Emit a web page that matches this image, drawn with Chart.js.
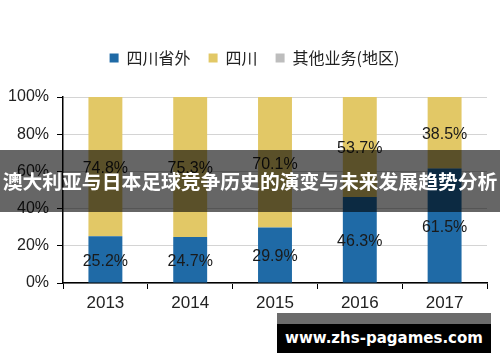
<!DOCTYPE html>
<html>
<head>
<meta charset="utf-8">
<script src="https://cdn.jsdelivr.net/npm/chart.js@4/dist/chart.umd.min.js"></script>
<style>
  html, body { margin: 0; padding: 0; background: #fff; }
  #wrap { position: relative; width: 500px; height: 362px; overflow: hidden; }
  #banner {
    position: absolute; left: 0; top: 150px; width: 500px; height: 62px;
    background: rgba(0,0,0,0.6); color: #fff;
    font: bold 19.8px "Noto Sans CJK SC", sans-serif;
    line-height: 62px; text-align: center; white-space: nowrap;
  }
  #mark {
    position: absolute; left: 277px; top: 313px; width: 214px; height: 40px;
    background: #000; border-top: 11px solid #6b6b6b; box-sizing: border-box;
    color: #fff; font: bold 15px "DejaVu Sans", sans-serif;
    line-height: 28px; text-align: center; white-space: nowrap;
  }
</style>
</head>
<body>
<div id="wrap">
  <canvas id="c" width="500" height="362"></canvas>
  <div id="banner">澳大利亚与日本足球竞争历史的演变与未来发展趋势分析</div>
  <div id="mark">www.zhs-pagames.com</div>
</div>
<script>
// 数据
const years = ['2013', '2014', '2015', '2016', '2017'];
const outsideSichuan = [25.2, 24.7, 29.9, 46.3, 61.5];
const sichuan = [74.8, 75.3, 70.1, 53.7, 38.5];
const otherBiz = [0, 0, 0, 0, 0];
const yTicks = [0, 20, 40, 60, 80, 100];

// 在每段柱子中间写数值
const segLabels = {
  id: 'segLabels',
  afterDatasetsDraw(chart) {
    const ctx = chart.ctx;
    ctx.save();
    ctx.font = '16px "Liberation Sans", Arial, sans-serif';
    ctx.fillStyle = '#1a1a1a';
    ctx.textAlign = 'center';
    ctx.textBaseline = 'middle';
    chart.data.datasets.forEach((ds, di) => {
      if (ds.label === '其他业务(地区)') return;
      chart.getDatasetMeta(di).data.forEach((bar, i) => {
        const v = ds.data[i];
        if (!v) return;
        ctx.fillText(v.toFixed(1) + '%', bar.x, (bar.y + bar.base) / 2 + 2);
      });
    });
    ctx.restore();
  }
};

// 图例下方多留一点空，并稍微右移
const legendGap = {
  id: 'legendGap',
  beforeInit(chart) {
    const legend = chart.legend;
    const fit = legend.fit;
    legend.fit = function () {
      fit.call(this);
      this.height += 21;
    };
    const draw = legend.draw;
    legend.draw = function () {
      const ctx = this.ctx;
      ctx.save();
      ctx.translate(11, 0);
      draw.call(this);
      ctx.restore();
    };
  }
};

new Chart(document.getElementById('c').getContext('2d'), {
  type: 'bar',
  data: {
    labels: years,
    datasets: [
      { label: '四川省外', data: outsideSichuan, backgroundColor: '#1f6aa6' },
      { label: '四川', data: sichuan, backgroundColor: '#e2c866' },
      { label: '其他业务(地区)', data: otherBiz, backgroundColor: '#bdbdbd' },
    ],
  },
  options: {
    responsive: false,
    animation: false,
    devicePixelRatio: 1,
    layout: { padding: { top: 32, right: 13, left: 0, bottom: 0 } },
    datasets: { bar: { barPercentage: 0.4, categoryPercentage: 1 } },
    plugins: {
      legend: {
        position: 'top',
        labels: {
          boxWidth: 9, boxHeight: 9, padding: 18, color: '#222',
          font: { family: '"Noto Sans CJK SC", sans-serif', size: 16 },
        },
      },
      tooltip: { enabled: false },
    },
    scales: {
      x: {
        stacked: true,
        grid: { drawOnChartArea: false, drawTicks: true, tickLength: 6, tickColor: '#000', offset: true },
        border: { color: '#000', width: 1.5 },
        ticks: { color: '#222', padding: 4, font: { family: '"Liberation Sans", Arial', size: 17 } },
        afterFit(s) { s.height = 79; },
      },
      y: {
        stacked: true,
        min: 0, max: 100,
        afterBuildTicks(s) { s.ticks = yTicks.map(v => ({ value: v })); },
        grid: { color: '#d4d4d4', tickColor: '#000', tickLength: 6 },
        border: { color: '#000', width: 1.5 },
        ticks: {
          color: '#222', padding: 8,
          font: { family: '"Liberation Sans", Arial', size: 16 },
          callback: v => v + '%',
        },
        afterFit(s) { s.width = 63; },
      },
    },
  },
  plugins: [segLabels, legendGap],
});
</script>
</body>
</html>
